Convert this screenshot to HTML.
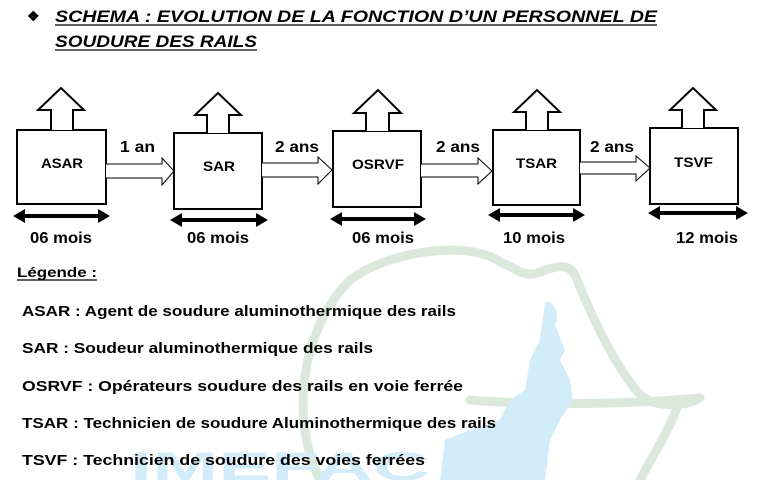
<!DOCTYPE html>
<html><head><meta charset="utf-8"><style>
html,body{margin:0;padding:0;background:#fff;}
svg{display:block;}
text{font-family:"Liberation Sans",sans-serif;font-weight:bold;fill:#000;}
</style></head><body>
<svg width="762" height="480" viewBox="0 0 762 480" xmlns="http://www.w3.org/2000/svg">
<!-- watermark -->
<g fill="none" stroke="#dbe9dc" stroke-width="9" stroke-linecap="round">
<path d="M320 480 C 290 420, 300 330, 350 280 C 390 250, 470 240, 500 262 C 520 270, 525 280, 545 270 C 560 265, 570 265, 575 275 C 585 300, 610 360, 640 395 C 660 410, 690 405, 700 398"/>
<path d="M470 400 C 530 405, 620 405, 700 398"/>
<path d="M680 400 C 670 430, 650 460, 640 480"/>
</g>
<path d="M545 302 C 555 300, 560 315, 555 325 L 565 350 L 560 360 L 570 380 L 573 400 L 560 420 L 550 440 L 545 480 L 440 480 L 445 440 L 470 430 L 500 420 L 510 400 L 525 390 L 530 360 L 540 340 Z" fill="#d3ecfa"/>
<text x="130" y="480" style="font-size:40px;fill:#d3ecfa" textLength="300" lengthAdjust="spacingAndGlyphs">IMEFAC</text>

<!-- title -->
<text x="27" y="21" style="font-size:14px">❖</text>
<text x="55" y="22" style="font-size:17px;font-style:italic" textLength="602" lengthAdjust="spacingAndGlyphs">SCHEMA : EVOLUTION DE LA FONCTION D’UN PERSONNEL DE</text>
<line x1="55" y1="25" x2="657" y2="25" stroke="#000" stroke-width="1.3"/>
<text x="55" y="47" style="font-size:17px;font-style:italic" textLength="202" lengthAdjust="spacingAndGlyphs">SOUDURE DES RAILS</text>
<line x1="55" y1="50" x2="257" y2="50" stroke="#000" stroke-width="1.3"/>

<g fill="#fff" stroke="#000" stroke-width="2" stroke-linejoin="miter">
<rect x="17" y="130" width="89" height="74"/>
<path d="M51 130 V110 H38 L61 88 L84 110 H73 V130"/>
<rect x="174" y="133" width="88" height="76"/>
<path d="M207 133 V115 H195 L218 93 L241 115 H229 V133"/>
<rect x="333" y="131" width="88" height="76"/>
<path d="M366 131 V113 H354 L378 90 L401 113 H389 V131"/>
<rect x="493" y="130" width="87" height="75"/>
<path d="M526 130 V112 H514 L537 90 L560 112 H548 V130"/>
<rect x="650" y="128" width="88" height="76"/>
<path d="M682 128 V110 H670 L693 88 L716 110 H704 V128"/>
</g>
<g fill="#fff" stroke="#000" stroke-width="1">
<path d="M106 164 H162 V158 L174 171 L162 185 V178 H106"/>
<path d="M262 163 H318 V157 L332 170 L318 184 V177 H262"/>
<path d="M421 164 H478 V158 L492 171 L478 184 V177 H421"/>
<path d="M580 162 H636 V156 L650 168 L636 181 V174 H580"/>
</g>
<text x="120" y="152" style="font-size:16px" textLength="35" lengthAdjust="spacingAndGlyphs">1 an</text>
<text x="275" y="152" style="font-size:16px" textLength="44" lengthAdjust="spacingAndGlyphs">2 ans</text>
<text x="436" y="152" style="font-size:16px" textLength="44" lengthAdjust="spacingAndGlyphs">2 ans</text>
<text x="590" y="152" style="font-size:16px" textLength="44" lengthAdjust="spacingAndGlyphs">2 ans</text>
<text x="41" y="168" style="font-size:14px" textLength="42" lengthAdjust="spacingAndGlyphs">ASAR</text>
<text x="203" y="171" style="font-size:14px" textLength="32" lengthAdjust="spacingAndGlyphs">SAR</text>
<text x="352" y="169" style="font-size:14px" textLength="52" lengthAdjust="spacingAndGlyphs">OSRVF</text>
<text x="516" y="168" style="font-size:14px" textLength="41" lengthAdjust="spacingAndGlyphs">TSAR</text>
<text x="674" y="167" style="font-size:14px" textLength="39" lengthAdjust="spacingAndGlyphs">TSVF</text>
<g fill="#000" stroke="#000" stroke-width="4">
<line x1="22" y1="216" x2="101" y2="216"/>
<line x1="179" y1="220" x2="259" y2="220"/>
<line x1="339" y1="219" x2="417" y2="219"/>
<line x1="497" y1="215" x2="576" y2="215"/>
<line x1="657" y1="213" x2="739" y2="213"/>
</g>
<g fill="#000">
<path d="M13 216 L25 209 V223Z"/><path d="M110 216 L98 209 V223Z"/>
<path d="M170 220 L182 213 V227Z"/><path d="M268 220 L256 213 V227Z"/>
<path d="M330 219 L342 212 V226Z"/><path d="M426 219 L414 212 V226Z"/>
<path d="M488 215 L500 208 V222Z"/><path d="M585 215 L573 208 V222Z"/>
<path d="M648 213 L660 206 V220Z"/><path d="M748 213 L736 206 V220Z"/>
</g>
<text x="30" y="243" style="font-size:16px" textLength="62" lengthAdjust="spacingAndGlyphs">06 mois</text>
<text x="187" y="243" style="font-size:16px" textLength="62" lengthAdjust="spacingAndGlyphs">06 mois</text>
<text x="352" y="243" style="font-size:16px" textLength="62" lengthAdjust="spacingAndGlyphs">06 mois</text>
<text x="503" y="243" style="font-size:16px" textLength="62" lengthAdjust="spacingAndGlyphs">10 mois</text>
<text x="676" y="243" style="font-size:16px" textLength="62" lengthAdjust="spacingAndGlyphs">12 mois</text>

<text x="17" y="277" style="font-size:14px" textLength="80" lengthAdjust="spacingAndGlyphs">Légende :</text>
<line x1="17" y1="280" x2="97" y2="280" stroke="#000" stroke-width="1.2"/>
<text x="22" y="316" style="font-size:15px" textLength="434" lengthAdjust="spacingAndGlyphs">ASAR : Agent de soudure aluminothermique des rails</text>
<text x="22" y="353" style="font-size:15px" textLength="351" lengthAdjust="spacingAndGlyphs">SAR :  Soudeur aluminothermique des rails</text>
<text x="22" y="391" style="font-size:15px" textLength="441" lengthAdjust="spacingAndGlyphs">OSRVF : Opérateurs soudure des rails en voie ferrée</text>
<text x="22" y="428" style="font-size:15px" textLength="474" lengthAdjust="spacingAndGlyphs">TSAR : Technicien de soudure Aluminothermique des rails</text>
<text x="22" y="465" style="font-size:15px" textLength="403" lengthAdjust="spacingAndGlyphs">TSVF :  Technicien de soudure des voies ferrées</text>
</svg>
</body></html>
